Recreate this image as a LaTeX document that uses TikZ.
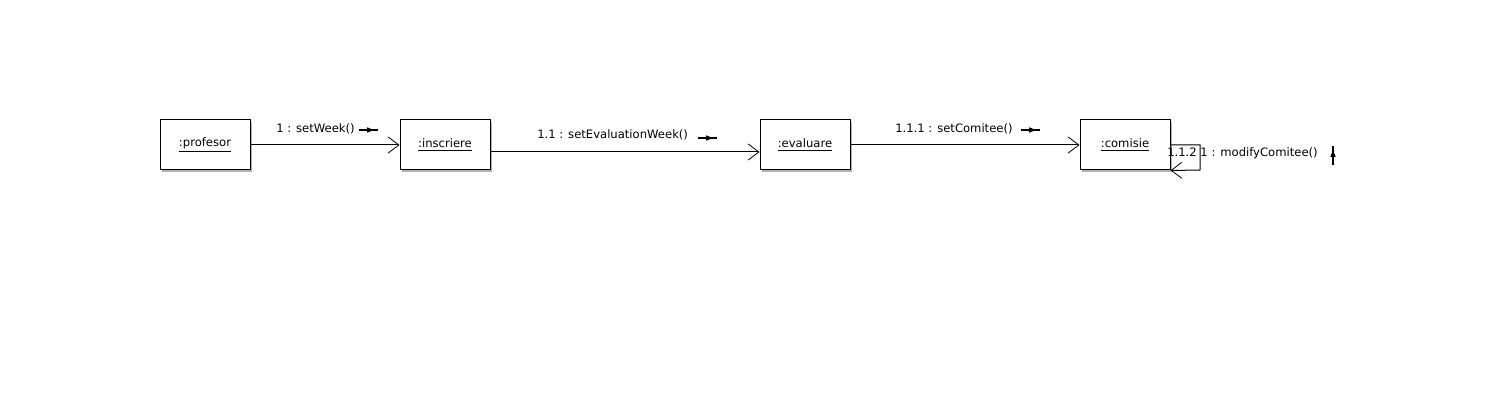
\documentclass[tikz,border=0pt]{standalone}
\usepackage{fontspec}
\setmainfont{DejaVu Sans}
\usetikzlibrary{arrows.meta,calc,shadows,decorations.markings}
\begin{document}
\begin{tikzpicture}[x=0.75pt,y=-0.75pt,
  obj/.style={draw=black,line width=0.75pt,fill=white,minimum width=67.5pt,minimum height=37.5pt,inner sep=0pt,font=\fontsize{8.7}{10}\selectfont,
    drop shadow={shadow xshift=1.2pt,shadow yshift=-1.2pt,fill=gray!60,opacity=1}},
  conn/.style={line width=0.75pt,-{Straight Barb[length=8pt,width=12pt,line width=0.6pt]}},
  lbl/.style={font=\fontsize{8.7}{10}\selectfont,inner sep=0pt},
  msg/.style={line width=0.9pt,decoration={markings,mark=at position 0.78 with {\arrow{Triangle[length=5pt,width=3.8pt]}}},postaction=decorate}
]
\useasboundingbox (0,0) rectangle (1495,416);
\node[obj] (prof) at (205,145) {\raisebox{1.5pt}{\underline{:profesor}}};
\node[obj] (insc) at (445,145) {\raisebox{1.5pt}{\underline{:inscriere}}};
\node[obj] (eval) at (805,145) {\raisebox{1.5pt}{\underline{:evaluare}}};
\node[obj] (comi) at (1125,145) {\raisebox{1.5pt}{\underline{:comisie}}};
\draw[conn] (prof.east) -- (insc.west);
\draw[conn] ($(insc.east)+(0,7)$) coordinate (a1) -- (a1 -| eval.west);
\draw[conn] (eval.east) -- (comi.west);
\coordinate (l1) at (1200,145);
\coordinate (l2) at (1200,170);
\draw[conn] (comi.east) -- (l1) -- (l2) -- (comi.south east);
\node[lbl,anchor=west] (t1) at (276,129) {1 : setWeek()};
\node[lbl,anchor=west] (t2) at (537,135) {1.1 : setEvaluationWeek()};
\node[lbl,anchor=west] (t3) at (895,129) {1.1.1 : setComitee()};
\node[lbl,anchor=west] (t4) at (1167,153) {1.1.2 1 : modifyComitee()};
\coordinate (m1a) at (359,130); \coordinate (m1b) at (378,130);
\coordinate (m2a) at (698,138); \coordinate (m2b) at (717,138);
\coordinate (m3a) at (1021,130); \coordinate (m3b) at (1040,130);
\coordinate (m4a) at (1333,165); \coordinate (m4b) at (1333,146);
\draw[msg] (m1a) -- (m1b);
\draw[msg] (m2a) -- (m2b);
\draw[msg] (m3a) -- (m3b);
\draw[msg] (m4a) -- (m4b);
\end{tikzpicture}
\end{document}
